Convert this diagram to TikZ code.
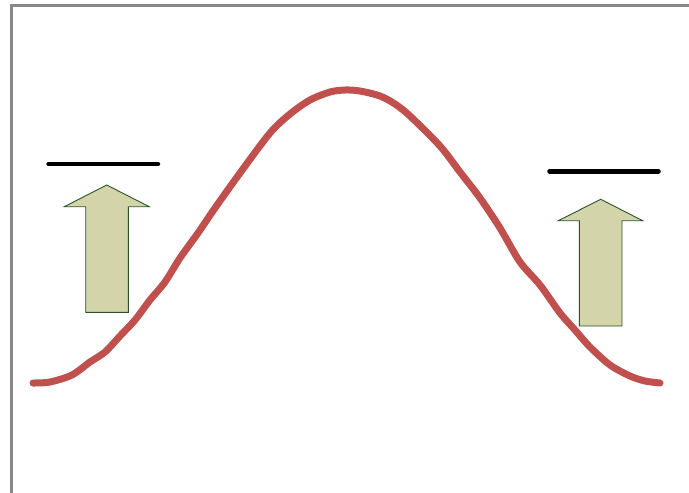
\documentclass[tikz,border=0pt]{standalone}
\definecolor{curvered}{RGB}{192,80,77}
\definecolor{arrowfill}{RGB}{211,212,170}
\definecolor{arrowline}{RGB}{40,85,40}
\definecolor{framegray}{RGB}{136,136,136}
\tikzset{
  upbar/.style={line width=4.5pt, line cap=round, black},
  uparrow/.style={fill=arrowfill, draw=arrowline, line width=0.9pt, line join=miter},
  bell/.style={curvered, line width=7pt, line cap=round, line join=round},
  frameline/.style={framegray, line width=3pt}
}
\begin{document}
\begin{tikzpicture}[x=1pt,y=-1pt]
\useasboundingbox (0,0) rectangle (689,493);
\fill[white] (0,0) rectangle (689,493);
\draw[frameline] (11,493) -- (11,5) -- (689,5);
\draw[bell] plot[smooth, tension=0.5] coordinates {
 (33,383) (50,382) (72,375) (90,362) (105,352) (120,336) (135,320) (150,300)
 (165,282) (180,258) (198,233) (215,208) (240,173) (270,133) (290,114) (310,100)
 (330,92) (345,90) (360,91) (380,96) (395,104) (410,116) (440,146) (460,172)
 (480,198) (500,228) (520,262) (540,285) (560,313) (575,330) (590,347) (610,365)
 (630,376) (645,381) (660,383)};
\draw[upbar] (48.5,164) -- (158,164);
\draw[upbar] (549.5,171.3) -- (658.5,171.3);
\draw[uparrow] (85.7,312.3) -- (85.7,206.7) -- (64.3,206.7) -- (106.7,185) -- (149.3,206.7) -- (128.3,206.7) -- (128.3,312.3) -- cycle;
\draw[uparrow] (579.3,326) -- (579.3,220.7) -- (558.3,220.7) -- (600.7,199.3) -- (642.7,220.7) -- (622,220.7) -- (622,326) -- cycle;
\end{tikzpicture}
\end{document}
